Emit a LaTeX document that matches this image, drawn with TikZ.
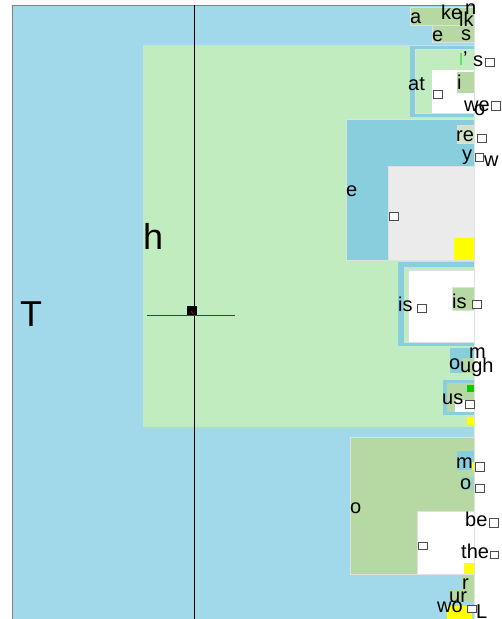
\documentclass[tikz,border=0pt]{standalone}
\usepackage{fontspec}
\setmainfont{Liberation Sans}
\definecolor{cblue}{HTML}{A2D9EA}
\definecolor{cdblue}{HTML}{88CEDD}
\definecolor{clgreen}{HTML}{C0ECC0}
\definecolor{cmgreen}{HTML}{B6D9A4}
\definecolor{cgrey}{HTML}{EBEBEB}
\definecolor{cyel}{HTML}{FFFF00}
\definecolor{cgreen}{HTML}{00CC00}
\begin{document}
\begin{tikzpicture}[x=1pt,y=-1pt,
  lbl/.style={anchor=base west, inner sep=0pt, font=\fontsize{20}{20}\selectfont},
  big/.style={anchor=base west, inner sep=0pt, font=\fontsize{36}{36}\selectfont},
  tofu/.style={draw=black!70, fill=white, line width=0.6pt},
  cell/.style={draw=black!12, line width=0.5pt}]
\useasboundingbox (0,0) rectangle (502,619);
\fill[white] (0,0) rectangle (502,619);
% outer treemap
\fill[cblue] (12,5) rectangle (474,619);
\draw[black!50, line width=0.8pt] (12,619) -- (12,5) -- (474,5);
\draw[black!10, line width=0.5pt] (474,5) -- (474,619);
% big green
\fill[clgreen] (143,45) rectangle (474,427);
% top rows
\fill[cmgreen,cell] (410,7) rectangle (474,25);
\fill[cmgreen,cell] (432,25) rectangle (474,42);
% "at" frame
\fill[cdblue] (410,46) rectangle (474,117);
\fill[clgreen,cell] (415,49) rectangle (474,113);
\fill[white] (432,70) rectangle (474,113);
\fill[cmgreen] (457,72) rectangle (474,93);
\fill[cgreen!60!white] (460,53) rectangle (462,65);
% "e" block
\fill[cdblue,cell] (346,119) rectangle (474,260);
\fill[cgrey,cell] (388,166) rectangle (474,260);
\fill[cyel] (454,238) rectangle (474,260);
\fill[cmgreen!50!cgrey,cell] (457,125) rectangle (474,143);
% "is" frame
\fill[cdblue] (398,262) rectangle (474,346);
\fill[clgreen] (404,267) rectangle (474,343);
\fill[white,cell] (408,270) rectangle (474,342);
\fill[cmgreen,cell] (452,287) rectangle (474,310);
% ough
\fill[cdblue] (450,348) rectangle (474,373);
\fill[cmgreen] (462,358) rectangle (474,373);
% us frame
\fill[cdblue] (443,380) rectangle (474,415);
\fill[cmgreen] (447,383) rectangle (474,412);
\fill[white] (455,400) rectangle (474,412);
\fill[cgreen] (467,385) rectangle (474,392);
\fill[cyel] (467,417) rectangle (474,425);
% bottom green block
\fill[cmgreen,cell] (350,437) rectangle (474,574);
\fill[white,cell] (417,511) rectangle (474,574);
\fill[cdblue] (457,451) rectangle (474,470);
\fill[cyel] (472,462) rectangle (474,470);
\fill[cdblue!50!cmgreen] (461,477) rectangle (474,490);
\fill[cyel] (464,563) rectangle (474,574);
\fill[cmgreen] (462,576) rectangle (474,590);
\fill[cmgreen] (450,590) rectangle (474,602);
\fill[cyel] (447,606) rectangle (472,619);
% lines
\draw[black, line width=0.9pt] (194,5) -- (194,619);
\draw[black!75, line width=0.9pt] (147,315) -- (235,315);
\fill[black] (187,306) rectangle (197,315);
\draw[red, line width=0.6pt] (191,311) -- (193,314);
% labels
\node[big] (T) at (20,326) {T};
\node[big] (h) at (143,249) {h};
\node[lbl] (la) at (410,23) {a};
\node[lbl] (lke) at (441,19) {ke};
\node[lbl] (ln) at (465,14) {n};
\node[lbl] (llk) at (459,26) {lk};
\node[lbl] (le1) at (432,41) {e};
\node[lbl] (ls1) at (461,40) {s};
\node[lbl] (lat) at (408,90) {at};
\node[lbl] (lap) at (463,65) {’};
\node[lbl] (ls2) at (473,66) {s};
\draw[tofu] (485,58) rectangle (494,66);
\draw[tofu] (433,90) rectangle (442,98);
\node[lbl] (li1) at (457,89) {i};
\node[lbl] (lwe) at (464,111) {we};
\node[lbl] (lo1) at (474,115) {o};
\draw[tofu] (491,101) rectangle (500,110);
\node[lbl] (le2) at (346,196) {e};
\draw[tofu] (389,212) rectangle (398,220);
\node[lbl] (lre) at (456,141) {re};
\draw[tofu] (477,134) rectangle (486,142);
\node[lbl] (ly) at (462,160) {y};
\draw[tofu] (475,153) rectangle (483,161);
\node[lbl] (lw) at (484,166) {w};
\node[lbl] (lis1) at (398,311) {is};
\draw[tofu] (417,304) rectangle (426,312);
\node[lbl] (lis2) at (452,308) {is};
\draw[tofu] (472,300) rectangle (481,308);
\node[lbl] (lo2) at (449,369) {o};
\node[lbl] (lugh) at (460,372) {ugh};
\node[lbl] (lm1) at (469,358) {m};
\node[lbl] (lus) at (442,404) {us};
\draw[tofu] (465,400) rectangle (474,408);
\node[lbl] (lo3) at (350,513) {o};
\draw[tofu] (418,542) rectangle (427,549);
\node[lbl] (lm2) at (456,468) {m};
\draw[tofu] (475,462) rectangle (484,471);
\node[lbl] (lo4) at (460,489) {o};
\draw[tofu] (475,484) rectangle (484,492);
\node[lbl] (lbe) at (465,526) {be};
\draw[tofu] (489,518) rectangle (498,527);
\node[lbl] (lthe) at (461,558) {the};
\draw[tofu] (490,551) rectangle (498,558);
\node[lbl] (lr) at (462,589) {r};
\node[lbl] (lur) at (449,602) {ur};
\node[lbl] (lwo) at (437,612) {wo};
\draw[tofu] (467,605) rectangle (476,612);
\node[lbl] (lL) at (476,618) {L};
\end{tikzpicture}
\end{document}
